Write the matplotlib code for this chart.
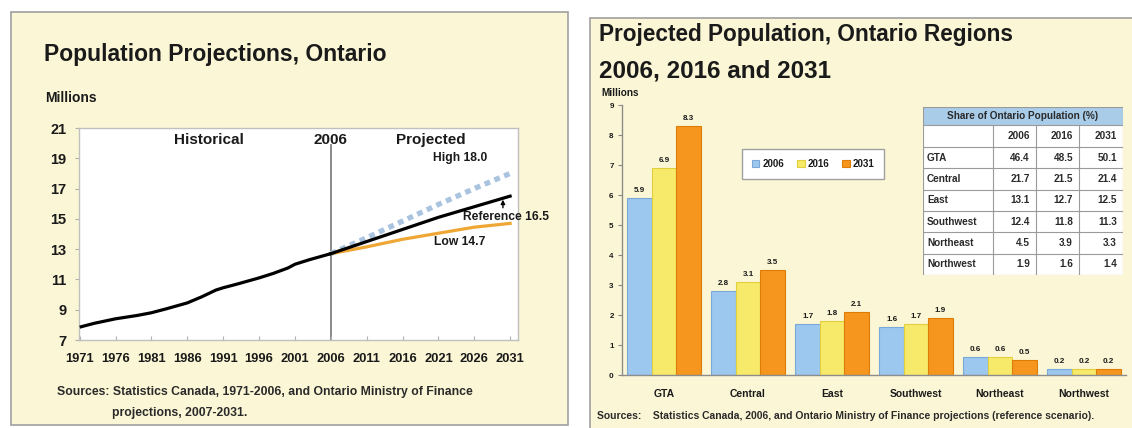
import matplotlib
matplotlib.use("Agg")
import matplotlib.pyplot as plt
from matplotlib.patches import Rectangle
import numpy as np

plt.rcParams['font.family'] = ['Liberation Sans', 'DejaVu Sans']
plt.rcParams['font.weight'] = 'bold'

# --- left chart: total Ontario population (millions) ---
hist_years = [1971, 1973, 1976, 1979, 1981, 1983, 1986, 1988, 1990, 1991,
              1993, 1996, 1998, 2000, 2001, 2003, 2006]
hist_pop = [7.85, 8.1, 8.4, 8.62, 8.8, 9.05, 9.45, 9.85, 10.3, 10.45,
            10.7, 11.1, 11.4, 11.75, 12.0, 12.3, 12.7]
proj_years = [2006, 2011, 2016, 2021, 2026, 2031]
proj_ref = [12.7, 13.5, 14.3, 15.1, 15.8, 16.5]
proj_high = [12.7, 13.75, 14.85, 15.95, 17.0, 18.0]
proj_low = [12.7, 13.15, 13.65, 14.05, 14.45, 14.7]

# --- right chart: regional population (millions) ---
regions = ['GTA', 'Central', 'East', 'Southwest', 'Northeast', 'Northwest']
years = ['2006', '2016', '2031']
pop_2006 = [5.9, 2.8, 1.7, 1.6, 0.6, 0.2]
pop_2016 = [6.9, 3.1, 1.8, 1.7, 0.6, 0.2]
pop_2031 = [8.3, 3.5, 2.1, 1.9, 0.5, 0.2]

# share of Ontario population (%)
share_2006 = [46.4, 21.7, 13.1, 12.4, 4.5, 1.9]
share_2016 = [48.5, 21.5, 12.7, 11.8, 3.9, 1.6]
share_2031 = [50.1, 21.4, 12.5, 11.3, 3.3, 1.4]

W, H = 1132, 428
PANEL = '#fbf7d6'
EDGE = '#a0a0a0'
TXT = '#1a1a1a'


def box(x0, y0, x1, y1):
    return [x0 / W, 1 - y1 / H, (x1 - x0) / W, (y1 - y0) / H]


def ftext(x, y, s, **kw):
    kw.setdefault('color', TXT)
    kw.setdefault('va', 'center')
    fig.text(x / W, 1 - y / H, s, **kw)


fig = plt.figure(figsize=(W / 100, H / 100), dpi=100)
fig.patch.set_facecolor('white')

for x0, y0, x1, y1 in [(11, 12, 568, 425), (590, 18, 1150, 440)]:
    fig.add_artist(Rectangle((x0 / W, 1 - y1 / H), (x1 - x0) / W, (y1 - y0) / H,
                             transform=fig.transFigure, facecolor=PANEL,
                             edgecolor=EDGE, linewidth=1.2, zorder=-5))

# ---------------- left panel ----------------
ftext(44, 54, 'Population Projections, Ontario', fontsize=16.5)
ftext(45, 98, 'Millions', fontsize=10)

ax = fig.add_axes(box(79, 128, 518, 340))
ax.set_facecolor('white')
ax.plot(hist_years, hist_pop, color='black', lw=2.3, solid_capstyle='butt', zorder=4)
ax.plot(proj_years, proj_high, color='#aac4e0', lw=3.8, dashes=(1.1, 0.9), zorder=2)
ax.plot(proj_years, proj_low, color='#eea734', lw=2.3, zorder=3)
ax.plot(proj_years, proj_ref, color='black', lw=2.3, zorder=4)
ax.axvline(2006, color='#808080', lw=1.3, ymax=0.92, zorder=1)

ax.set_xlim(1970.9, 2032.1)
ax.set_ylim(7, 21)
ax.set_xticks(range(1971, 2032, 5))
ax.set_yticks(range(7, 22, 2))
ax.tick_params(axis='x', direction='in', length=3, color='#b0b0b0', pad=9,
               labelsize=9.3, labelcolor=TXT)
ax.tick_params(axis='y', direction='out', length=3, color='#b0b0b0', pad=6,
               labelsize=10.5, labelcolor=TXT)
for s in ax.spines.values():
    s.set_color('#c0c0c0')
    s.set_linewidth(1)

ax.text(1989, 20.2, 'Historical', ha='center', va='center', fontsize=11, color=TXT)
ax.text(2006, 20.2, '2006', ha='center', va='center', fontsize=11, color=TXT)
ax.text(2020, 20.2, 'Projected', ha='center', va='center', fontsize=11, color=TXT)
ax.text(2024, proj_high[-1] + 1.05, f'High {proj_high[-1]:.1f}', ha='center',
        va='center', fontsize=8.7, color=TXT)
ax.text(2024.4, proj_ref[-1] - 1.35, f'Reference {proj_ref[-1]:.1f}', ha='left',
        va='center', fontsize=8.7, color=TXT, clip_on=False, zorder=6)
ax.text(2024, proj_low[-1] - 1.25, f'Low {proj_low[-1]:.1f}', ha='center',
        va='center', fontsize=8.7, color=TXT)
ax.annotate('', xy=(2030, proj_ref[-1] - 0.05), xytext=(2030, proj_ref[-1] - 0.95),
            arrowprops=dict(arrowstyle='-|>', color='black', lw=1, mutation_scale=6))

ftext(57, 392, 'Sources: Statistics Canada, 1971-2006, and Ontario Ministry of Finance',
      fontsize=8.8, color='#2a2a2a')
ftext(112, 413, 'projections, 2007-2031.', fontsize=8.8, color='#2a2a2a')

# ---------------- right panel ----------------
ftext(599, 35, 'Projected Population, Ontario Regions', fontsize=16.3)
ftext(599, 71, '2006, 2016 and 2031', fontsize=17.5)
ftext(601, 93, 'Millions', fontsize=7.2)

bx = fig.add_axes(box(622, 105, 1126, 375))
bx.patch.set_alpha(0)
x = np.arange(len(regions))
bw = 0.29
colors = ['#9cc7ee', '#f7e96a', '#f7961e']
edges = ['#7aa8d8', '#e2cf3c', '#dc7d0a']
for i, (vals, c, ec) in enumerate(zip([pop_2006, pop_2016, pop_2031], colors, edges)):
    bars = bx.bar(x + (i - 1) * bw, vals, width=bw, color=c, edgecolor=ec,
                  linewidth=0.8, label=years[i])
    bx.bar_label(bars, fmt='%.1f', padding=3, fontsize=5.8, color=TXT)

bx.set_xlim(-0.5, 5.5)
bx.set_ylim(0, 9)
bx.set_yticks(range(0, 10))
bx.set_xticks(x)
bx.set_xticklabels(regions)
bx.tick_params(axis='y', direction='out', length=3, color='#888888', pad=3,
               labelsize=5.8, labelcolor=TXT)
bx.tick_params(axis='x', length=0, pad=10, labelsize=7.5, labelcolor=TXT)
for side in ['top', 'right']:
    bx.spines[side].set_visible(False)
for side in ['left', 'bottom']:
    bx.spines[side].set_color('#8c8c8c')
    bx.spines[side].set_linewidth(1)

leg = bx.legend(loc='center', bbox_to_anchor=(813 / W, 1 - 164 / H),
                bbox_transform=fig.transFigure, ncol=3, fontsize=7,
                handlelength=0.8, handleheight=0.8, handletextpad=0.3,
                columnspacing=1.3, borderpad=1.0, fancybox=False, framealpha=1)
leg.get_frame().set_edgecolor('#a0a0a0')
leg.get_frame().set_linewidth(1)
for t in leg.get_texts():
    t.set_color(TXT)

# share table drawn on its own pixel-scaled axes
tx = fig.add_axes(box(923, 107, 1123, 275))
tx.set_xlim(0, 200)
tx.set_ylim(168, 0)
tx.axis('off')
col_edges = [0, 70, 113, 156, 200]
row_edges = [0, 18, 40] + [40 + 21.33 * k for k in range(1, 7)]
tx.add_patch(Rectangle((0, 0), 200, 18, facecolor='#a9cde9', edgecolor='none'))
tx.add_patch(Rectangle((0, 18), 200, 150, facecolor='white', edgecolor='none'))
line_kw = dict(color='#9a9a9a', lw=0.8)
for yv in row_edges:
    tx.plot([0, 200], [yv, yv], **line_kw)
for xv in [0, 200]:
    tx.plot([xv, xv], [0, 168], **line_kw)
for xv in col_edges[1:-1]:
    tx.plot([xv, xv], [18, 168], **line_kw)
tx.text(100, 9, 'Share of Ontario Population (%)', ha='center', va='center',
        fontsize=7.2, color='#2a2a2a')
for j, yr in enumerate(years):
    tx.text(col_edges[j + 2] - 6, 29, yr, ha='right', va='center',
            fontsize=7.2, color='#2a2a2a')
for r, name in enumerate(regions):
    yc = (row_edges[r + 2] + row_edges[r + 3]) / 2
    tx.text(4, yc, name, ha='left', va='center', fontsize=7.2, color='#2a2a2a')
    for j, col in enumerate([share_2006, share_2016, share_2031]):
        tx.text(col_edges[j + 2] - 6, yc, f'{col[r]:.1f}', ha='right',
                va='center', fontsize=7.2, color='#2a2a2a')

ftext(597, 416, 'Sources:    Statistics Canada, 2006, and Ontario Ministry of Finance '
      'projections (reference scenario).', fontsize=7.5, color='#2a2a2a')

fig.savefig('out.png', dpi=100, facecolor='white')
